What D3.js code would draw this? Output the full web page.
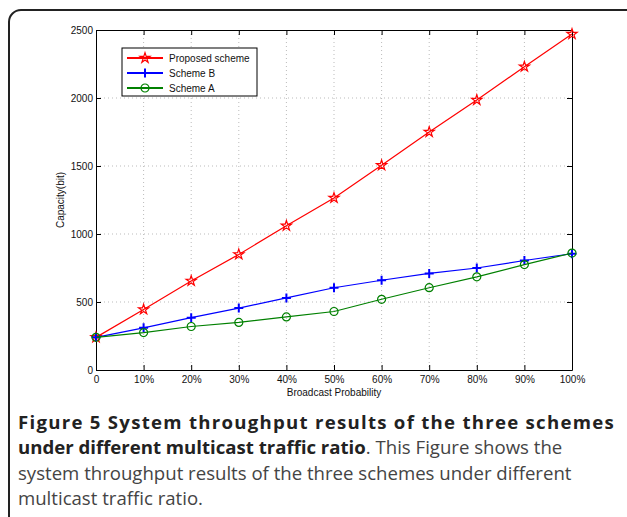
<!DOCTYPE html>
<html>
<head>
<meta charset="utf-8">
<script src="https://cdn.jsdelivr.net/npm/d3@7"></script>
<style>
  body { margin: 0; background: #fff; }
</style>
</head>
<body>
<div id="chart"></div>
<script>
const xLabels = ['0', '10%', '20%', '30%', '40%', '50%', '60%', '70%', '80%', '90%', '100%']
const proposed = [240, 445, 655, 850, 1060, 1265, 1505, 1750, 1985, 2230, 2470]
const schemeB = [240, 310, 385, 455, 530, 605, 660, 710, 750, 805, 855]
const schemeA = [240, 275, 320, 350, 390, 430, 520, 605, 685, 775, 860]
const yTicks = [0, 500, 1000, 1500, 2000, 2500]

const series = [
    {name: 'Proposed scheme', values: proposed, color: '#ff0000', marker: 'star'},
    {name: 'Scheme B', values: schemeB, color: '#0000ff', marker: 'plus'},
    {name: 'Scheme A', values: schemeA, color: '#008000', marker: 'circle'}
]

const chartWidth = 627, chartHeight = 517
const plotLeft = 96, plotRight = 572, plotTop = 30, plotBottom = 370
const axisFont = '"Liberation Sans", Arial, sans-serif'

const svg = d3.select('#chart')
    .append('svg')
    .attr('width', chartWidth)
    .attr('height', chartHeight)
    .attr('font-family', axisFont)

// outer rounded frame
svg.append('rect')
    .attr('x', 9).attr('y', 10)
    .attr('width', 660).attr('height', 560)
    .attr('rx', 12)
    .attr('fill', 'none')
    .attr('stroke', '#222')
    .attr('stroke-width', 2)

const x = d3.scaleLinear().domain([0, xLabels.length - 1]).range([plotLeft, plotRight])
const y = d3.scaleLinear().domain([0, 2500]).range([plotBottom, plotTop])

// grid
svg.append('g').selectAll('line')
    .data(d3.range(1, xLabels.length - 1))
    .enter().append('line')
    .attr('x1', d => x(d)).attr('x2', d => x(d))
    .attr('y1', plotTop).attr('y2', plotBottom)
    .attr('stroke', '#bbb').attr('stroke-dasharray', '1,3')
svg.append('g').selectAll('line')
    .data(yTicks.slice(1, -1))
    .enter().append('line')
    .attr('x1', plotLeft).attr('x2', plotRight)
    .attr('y1', d => y(d)).attr('y2', d => y(d))
    .attr('stroke', '#bbb').attr('stroke-dasharray', '1,3')

// axes (ticks inward, MATLAB box)
const xAxis = d3.axisBottom(x).tickValues(d3.range(xLabels.length))
    .tickFormat(i => xLabels[i]).tickSizeInner(-5).tickSizeOuter(0).tickPadding(6)
const yAxis = d3.axisLeft(y).tickValues(yTicks).tickFormat(d3.format('d'))
    .tickSizeInner(-5).tickSizeOuter(0).tickPadding(3)

svg.append('g').attr('transform', `translate(0,${plotBottom})`).call(xAxis)
svg.append('g').attr('transform', `translate(${plotLeft},0)`).call(yAxis)
svg.append('g').attr('transform', `translate(0,${plotTop})`)
    .call(d3.axisTop(x).tickValues(d3.range(xLabels.length)).tickFormat('').tickSizeInner(-5).tickSizeOuter(0))
svg.append('g').attr('transform', `translate(${plotRight},0)`)
    .call(d3.axisRight(y).tickValues(yTicks).tickFormat('').tickSizeInner(-5).tickSizeOuter(0))

svg.selectAll('.domain').attr('stroke', '#000')
svg.selectAll('.tick line').attr('stroke', '#000')
svg.selectAll('.tick text').attr('font-size', 10).attr('fill', '#111')
    .attr('font-family', axisFont)

// axis labels
svg.append('text')
    .attr('x', (plotLeft + plotRight) / 2).attr('y', 396)
    .attr('text-anchor', 'middle').attr('font-size', 10).attr('fill', '#111')
    .text('Broadcast Probability')
svg.append('text')
    .attr('transform', `translate(64,${(plotTop + plotBottom) / 2}) rotate(-90)`)
    .attr('text-anchor', 'middle').attr('font-size', 10).attr('fill', '#111')
    .text('Capacity(bit)')

const star = d3.symbol().type(d3.symbolStar).size(32)
const plus = 'M-4.5,0H4.5M0,-4.5V4.5'

function drawMarker(g, type, color) {
    if (type === 'star') {
        g.append('path').attr('d', star()).attr('fill', 'none')
            .attr('stroke', color).attr('stroke-width', 1.2)
    } else if (type === 'plus') {
        g.append('path').attr('d', plus).attr('stroke', color).attr('stroke-width', 2)
    } else {
        g.append('circle').attr('r', 4).attr('fill', 'none')
            .attr('stroke', color).attr('stroke-width', 1.2)
    }
}

const line = d3.line().x((d, i) => x(i)).y(d => y(d))

series.forEach(s => {
    svg.append('path')
        .attr('d', line(s.values))
        .attr('fill', 'none')
        .attr('stroke', s.color)
        .attr('stroke-width', 1.2)
    s.values.forEach((v, i) => {
        const g = svg.append('g').attr('transform', `translate(${x(i)},${y(v)})`)
        drawMarker(g, s.marker, s.color)
    })
})

// legend
const legend = svg.append('g').attr('transform', 'translate(122,48)')
legend.append('rect')
    .attr('width', 135).attr('height', 48)
    .attr('fill', '#fff').attr('stroke', '#000').attr('stroke-width', 1)
series.forEach((s, i) => {
    const ly = 10 + i * 15
    legend.append('line')
        .attr('x1', 5).attr('x2', 41).attr('y1', ly).attr('y2', ly)
        .attr('stroke', s.color).attr('stroke-width', 2)
    drawMarker(legend.append('g').attr('transform', `translate(23,${ly})`), s.marker, s.color)
    legend.append('text')
        .attr('x', 47).attr('y', ly + 3.5)
        .attr('font-size', 10).attr('fill', '#111')
        .text(s.name)
})

// caption
const capLines = [
    [{t: 'Figure 5 System throughput results of the three schemes', b: true}],
    [{t: 'under different multicast traffic ratio', b: true}, {t: '. This Figure shows the', b: false}],
    [{t: 'system throughput results of the three schemes under different', b: false}],
    [{t: 'multicast traffic ratio.', b: false}]
]
capLines.forEach((parts, i) => {
    const t = svg.append('text')
        .attr('x', 18).attr('y', 429 + i * 25.3)
        .attr('font-family', '"Open Sans", sans-serif')
        .attr('font-size', 18.6)
    parts.forEach(p => {
        t.append('tspan').text(p.t)
            .attr('font-weight', p.b ? 'bold' : 'normal')
            .attr('fill', p.b ? '#222' : '#444')
    })
    // first line is justified to the column width
    if (i === 0) {
        const extra = 615 - 18 - t.node().getComputedTextLength()
        if (extra > 0) t.attr('letter-spacing', extra / parts[0].t.length)
    }
})
</script>
</body>
</html>
